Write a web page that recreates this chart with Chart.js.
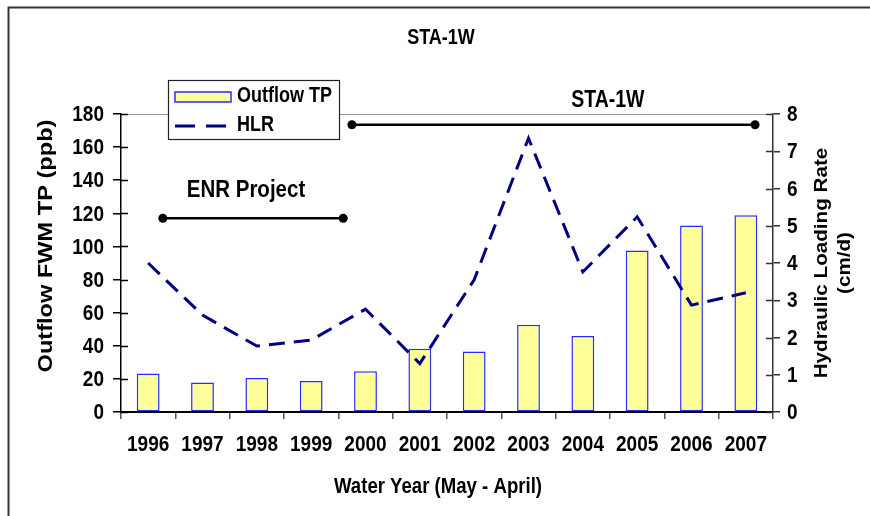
<!DOCTYPE html>
<html>
<head>
<meta charset="utf-8">
<script src="https://cdn.jsdelivr.net/npm/chart.js@4.4.1/dist/chart.umd.min.js"></script>
<style>
  html, body { margin: 0; padding: 0; background: #fff; }
  #wrap { width: 870px; height: 516px; position: relative; }
</style>
</head>
<body>
<div id="wrap"><canvas id="c" width="870" height="516"></canvas></div>
<script>
// ---- data ----
const years = ['1996','1997','1998','1999','2000','2001','2002','2003','2004','2005','2006','2007'];
const outflowTP = [23.2, 17.8, 20.6, 18.8, 24.6, 38.2, 36.6, 52.7, 45.9, 97.6, 112.7, 118.8];
const hlr = [4.0, 2.6, 1.77, 1.93, 2.76, 1.3, 3.55, 7.35, 3.76, 5.24, 2.87, 3.2];
const leftTicks = [0, 20, 40, 60, 80, 100, 120, 140, 160, 180];
const rightTicks = [0, 1, 2, 3, 4, 5, 6, 7, 8];
// period bars (x in category-index units, y in ppb units)
const periodLabels = ['ENR Project', 'STA-1W'];
const periodStart = [0.27, 3.75];
const periodEnd = [3.59, 11.17];
const periodLevel = [117, 173.5];
const periodLabelX = [1.80, 8.46];
const periodLabelY = [134, 188];
const chartTitle = 'STA-1W';
const xTitle = 'Water Year (May - April)';
const yTitle = 'Outflow FWM TP (ppb)';
const y1Title = ['Hydraulic Loading Rate', '(cm/d)'];

const SY = 1.18; // vertical stretch of lettering in the original picture
const FAM = "'Liberation Sans', Arial, sans-serif";

Chart.defaults.font.family = FAM;
Chart.defaults.color = '#000';

function txt(ctx, s, x, y, size, align, rotated) {
  ctx.save();
  ctx.translate(x, y);
  ctx.scale(1, SY);
  if (rotated) ctx.rotate(-Math.PI / 2);
  ctx.font = `bold ${size}px ${FAM}`;
  ctx.textAlign = align || 'center';
  ctx.textBaseline = 'middle';
  ctx.fillStyle = '#000';
  ctx.fillText(s, 0, 0);
  ctx.restore();
}

const decor = {
  id: 'decor',
  beforeDraw(chart) {
    const ctx = chart.ctx;
    ctx.save();
    ctx.fillStyle = '#fff';
    ctx.fillRect(0, 0, chart.width, chart.height);
    ctx.strokeStyle = '#333';
    ctx.lineWidth = 2;
    ctx.beginPath();
    ctx.moveTo(8.5, chart.height);
    ctx.lineTo(8.5, 7.5);
    ctx.lineTo(chart.width, 7.5);
    ctx.stroke();
    ctx.restore();
  },
  beforeDatasetsDraw(chart) {
    const ctx = chart.ctx, a = chart.chartArea;
    ctx.save();
    ctx.strokeStyle = '#999';
    ctx.lineWidth = 1.2;
    ctx.beginPath();
    ctx.moveTo(a.left, a.top + 0.5);
    ctx.lineTo(a.right, a.top + 0.5);
    ctx.stroke();
    ctx.strokeStyle = '#000';
    ctx.lineWidth = 1.5;
    const ys = chart.scales.y, y1 = chart.scales.y1;
    ys.ticks.forEach(t => {
      const p = Math.round(ys.getPixelForValue(t.value)) + 0.5;
      ctx.beginPath(); ctx.moveTo(a.left, p); ctx.lineTo(a.left + 7, p); ctx.stroke();
    });
    ctx.strokeStyle = '#333';
    y1.ticks.forEach(t => {
      const p = Math.round(y1.getPixelForValue(t.value)) + 0.5;
      ctx.beginPath(); ctx.moveTo(a.right, p); ctx.lineTo(a.right - 7, p); ctx.stroke();
    });
    ctx.restore();
  },
  afterDatasetsDraw(chart) {
    const ctx = chart.ctx;
    const xs = chart.scales.x, ys = chart.scales.y;
    ctx.save();
    ctx.strokeStyle = '#000';
    ctx.fillStyle = '#000';
    ctx.lineWidth = 2.5;
    periodLabels.forEach((lab, i) => {
      const x0 = xs.getPixelForValue(periodStart[i]);
      const x1 = xs.getPixelForValue(periodEnd[i]);
      const yy = ys.getPixelForValue(periodLevel[i]);
      ctx.beginPath(); ctx.moveTo(x0, yy); ctx.lineTo(x1, yy); ctx.stroke();
      [x0, x1].forEach(px => { ctx.beginPath(); ctx.arc(px, yy, 4.5, 0, Math.PI * 2); ctx.fill(); });
    });
    ctx.restore();
  },
  afterDraw(chart) {
    const ctx = chart.ctx, a = chart.chartArea;
    const xs = chart.scales.x, ys = chart.scales.y, y1 = chart.scales.y1;
    // tick labels
    years.forEach((lab, i) => txt(ctx, lab, xs.getPixelForValue(i), 445, 19, 'center'));
    leftTicks.forEach(v => txt(ctx, String(v), a.left - 17, ys.getPixelForValue(v) + 1, 19, 'right'));
    rightTicks.forEach(v => txt(ctx, String(v), a.right + 14, y1.getPixelForValue(v) + 1, 19, 'left'));
    // chart title
    txt(ctx, chartTitle, (a.left + a.right) / 2 - 6, 38, 18, 'center');
    // period labels
    txt(ctx, periodLabels[0], xs.getPixelForValue(periodLabelX[0]), ys.getPixelForValue(periodLabelY[0]), 20.5, 'center');
    txt(ctx, periodLabels[1], xs.getPixelForValue(periodLabelX[1]), ys.getPixelForValue(periodLabelY[1]), 19.5, 'center');
    // axis titles
    txt(ctx, xTitle, (a.left + a.right) / 2 - 9, 487, 18.6, 'center');
    txt(ctx, yTitle, 46, (a.top + a.bottom) / 2 - 17, 20, 'center', true);
    txt(ctx, y1Title[0], 822, (a.top + a.bottom) / 2, 17.5, 'center', true);
    txt(ctx, y1Title[1], 845, (a.top + a.bottom) / 2, 17.5, 'center', true);

    // legend box
    const L = a.left + 47, T = a.top - 34, W = 171, H = 59;
    ctx.save();
    ctx.fillStyle = '#fff';
    ctx.fillRect(L, T, W, H);
    ctx.strokeStyle = '#222';
    ctx.lineWidth = 1.2;
    ctx.strokeRect(L + 0.5, T + 0.5, W, H);
    const dsBar = chart.data.datasets[0], dsLine = chart.data.datasets[1];
    ctx.fillStyle = dsBar.backgroundColor;
    ctx.fillRect(L + 7, T + 12, 56, 10);
    ctx.strokeStyle = dsBar.borderColor;
    ctx.lineWidth = 1.5;
    ctx.strokeRect(L + 7, T + 12, 56, 10);
    ctx.strokeStyle = dsLine.borderColor;
    ctx.lineWidth = 3;
    ctx.setLineDash([20, 11]);
    ctx.beginPath();
    ctx.moveTo(L + 7, T + 46);
    ctx.lineTo(L + 58, T + 46);
    ctx.stroke();
    ctx.restore();
    txt(ctx, dsBar.label, L + 69, T + 16, 18, 'left');
    txt(ctx, dsLine.label, L + 69, T + 45, 18, 'left');
  }
};

new Chart(document.getElementById('c'), {
  type: 'bar',
  data: {
    labels: years,
    datasets: [
      {
        label: 'Outflow TP',
        data: outflowTP,
        backgroundColor: '#FFFF99',
        borderColor: '#2B2BFF',
        borderWidth: 1.5,
        borderSkipped: false,
        grouped: false,
        barPercentage: 0.42,
        categoryPercentage: 1,
        yAxisID: 'y',
        order: 2
      },
      {
        type: 'line',
        label: 'HLR',
        data: hlr,
        borderColor: '#000080',
        borderWidth: 3,
        borderDash: [16, 9],
        pointRadius: 0,
        fill: false,
        tension: 0,
        yAxisID: 'y1',
        order: 1
      }
    ]
  },
  options: {
    responsive: false,
    animation: false,
    devicePixelRatio: 1,
    layout: { padding: { top: 114, left: 0, right: 0, bottom: 0 } },
    plugins: { legend: { display: false }, tooltip: { enabled: false }, title: { display: false } },
    scales: {
      x: {
        type: 'category',
        offset: true,
        grid: { offset: true, drawOnChartArea: false, drawTicks: true, tickLength: 7, color: '#555', lineWidth: 1.5 },
        border: { display: true, color: '#000', width: 2 },
        ticks: { display: false, autoSkip: false },
        afterFit: s => { s.height = 104; }
      },
      y: {
        position: 'left',
        min: 0, max: 180,
        afterBuildTicks: s => { s.ticks = leftTicks.map(v => ({ value: v })); },
        grid: { drawOnChartArea: false, tickLength: 8, color: '#000', lineWidth: 1.5 },
        border: { display: true, color: '#000', width: 1.5 },
        ticks: { display: false },
        afterFit: s => { s.width = 121; }
      },
      y1: {
        position: 'right',
        min: 0, max: 8,
        afterBuildTicks: s => { s.ticks = rightTicks.map(v => ({ value: v })); },
        grid: { drawOnChartArea: false, tickLength: 7, color: '#333', lineWidth: 1.5 },
        border: { display: true, color: '#333', width: 1.5 },
        ticks: { display: false },
        afterFit: s => { s.width = 97; }
      }
    }
  },
  plugins: [decor]
});
</script>
</body>
</html>
